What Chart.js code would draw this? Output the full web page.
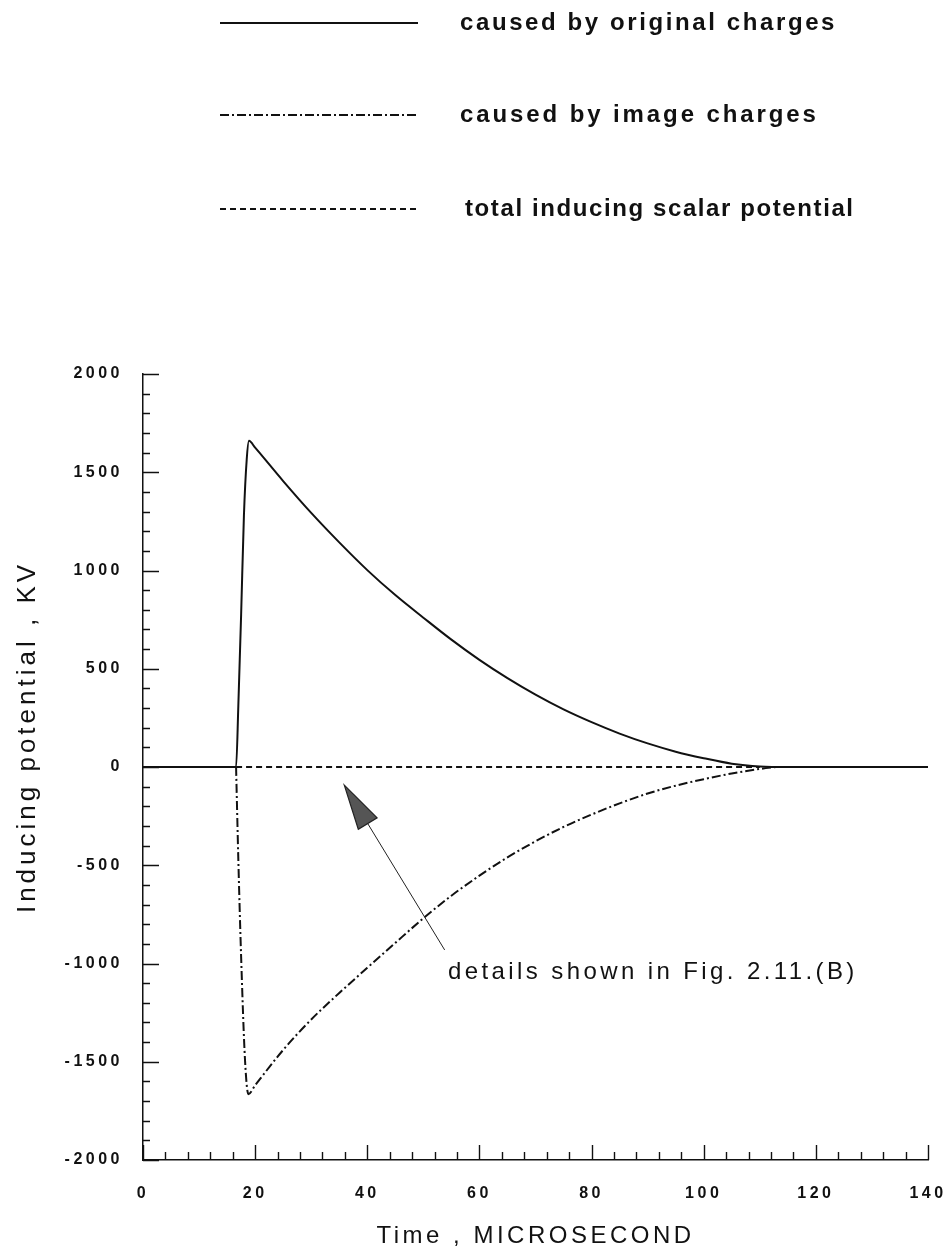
<!DOCTYPE html>
<html>
<head>
<meta charset="utf-8">
<script src="https://cdn.jsdelivr.net/npm/chart.js@4.4.0/dist/chart.umd.min.js"></script>
<style>
  html, body { margin: 0; padding: 0; background: #fff; }
  #wrap { width: 948px; height: 1253px; position: relative; }
</style>
</head>
<body>
<div id="wrap"><canvas id="potentialChart"></canvas></div>
<script>
// time in microseconds, inducing potential in kV
const origTime = [0, 16.6, 17.0, 17.5, 18.0, 18.5, 18.9, 20, 25, 30, 35, 40, 45, 50, 55, 60, 65, 70, 75, 80, 85, 90, 95, 100, 105, 110, 115, 140];
const origKV   = [0, 0, 310, 775, 1280, 1566, 1660, 1625, 1455, 1293, 1143, 1002, 875, 760, 648, 545, 452, 368, 293, 228, 170, 120, 78, 45, 17, 3, 0, 0];

const imageTime = [16.6, 17.0, 17.5, 18.2, 18.8, 20, 25, 30, 35, 40, 45, 50, 55, 60, 65, 70, 75, 80, 85, 90, 95, 100, 105, 110, 113];
const imageKV   = [0, -470, -966, -1495, -1665, -1620, -1440, -1285, -1150, -1022, -895, -770, -655, -553, -460, -378, -305, -242, -185, -135, -95, -62, -33, -10, 0];

const totalTime = [16.6, 110];
const totalKV   = [0, 0];

const seriesNames = [
  'caused by original charges',
  'caused by image charges',
  'total inducing scalar potential'
];

const xTickLabels = [0, 20, 40, 60, 80, 100, 120, 140];
const yTickLabels = [-2000, -1500, -1000, -500, 0, 500, 1000, 1500, 2000];

const toPoints = (xs, ys) => xs.map((x, i) => ({ x: x, y: ys[i] }));

const FONT = '"Liberation Sans", Arial, sans-serif';

// inward tick marks, y title, the stacked legend and the arrow note
const framePlugin = {
  id: 'frame',
  beforeDraw(chart) {
    chart.ctx.letterSpacing = '3.5px';
  },
  afterDraw(chart) {
    const { ctx, scales: { x, y } } = chart;
    ctx.save();
    ctx.letterSpacing = '0px';
    ctx.strokeStyle = '#111';
    ctx.lineWidth = 1.4;
    ctx.beginPath();
    for (let t = x.min; t <= x.max; t += 4) {
      const px = Math.round(x.getPixelForValue(t)) + 0.5;
      const len = t % 20 === 0 ? 15 : 8;
      ctx.moveTo(px, y.bottom);
      ctx.lineTo(px, y.bottom - len);
    }
    for (let v = y.min; v <= y.max; v += 100) {
      const py = Math.round(y.getPixelForValue(v)) + 0.5;
      const len = v % 500 === 0 ? 16 : 7;
      ctx.moveTo(x.left, py);
      ctx.lineTo(x.left + len, py);
    }
    ctx.stroke();

    // vertical axis title
    ctx.save();
    ctx.translate(28, 737);
    ctx.rotate(-Math.PI / 2);
    ctx.fillStyle = '#111';
    ctx.font = '26px ' + FONT;
    ctx.letterSpacing = '4px';
    ctx.textAlign = 'center';
    ctx.textBaseline = 'middle';
    ctx.fillText('Inducing potential , KV', 0, 0);
    ctx.restore();

    // legend block above the plot
    const rows = [23, 115, 209];
    const textX = [460, 460, 465];
    const spacing = ['2.6px', '2.9px', '1.6px'];
    chart.data.datasets.forEach((ds, i) => {
      ctx.save();
      ctx.strokeStyle = ds.borderColor;
      ctx.lineWidth = ds.borderWidth;
      ctx.setLineDash(ds.borderDash || []);
      ctx.beginPath();
      ctx.moveTo(220, rows[i]);
      ctx.lineTo(418, rows[i]);
      ctx.stroke();
      ctx.restore();
      ctx.fillStyle = '#111';
      ctx.font = 'bold 24px ' + FONT;
      ctx.letterSpacing = spacing[i];
      ctx.textBaseline = 'middle';
      ctx.textAlign = 'left';
      ctx.fillText(seriesNames[i], textX[i], rows[i]);
    });

    // arrow pointing at the zero region
    const tip = { x: x.getPixelForValue(35.9), y: y.getPixelForValue(-92) };
    const tail = { x: x.getPixelForValue(53.8), y: y.getPixelForValue(-931) };
    const dx = tail.x - tip.x, dy = tail.y - tip.y;
    const d = Math.hypot(dx, dy), ux = dx / d, uy = dy / d;
    const headLen = 45, half = 11;
    const bx = tip.x + ux * headLen, by = tip.y + uy * headLen;
    ctx.setLineDash([]);
    ctx.lineWidth = 1;
    ctx.strokeStyle = '#222';
    ctx.beginPath();
    ctx.moveTo(bx, by);
    ctx.lineTo(tail.x, tail.y);
    ctx.stroke();
    ctx.beginPath();
    ctx.moveTo(tip.x, tip.y);
    ctx.lineTo(bx - uy * half, by + ux * half);
    ctx.lineTo(bx + uy * half, by - ux * half);
    ctx.closePath();
    ctx.fillStyle = '#555';
    ctx.fill();
    ctx.lineWidth = 1.2;
    ctx.stroke();

    ctx.fillStyle = '#111';
    ctx.font = '24px ' + FONT;
    ctx.letterSpacing = '3.4px';
    ctx.textBaseline = 'middle';
    ctx.textAlign = 'left';
    ctx.fillText('details shown in Fig. 2.11.(B)', x.getPixelForValue(54.4), y.getPixelForValue(-1043));
    ctx.restore();
  }
};

const ctx = document.getElementById('potentialChart').getContext('2d');
new Chart(ctx, {
  type: 'line',
  data: {
    datasets: [{
      label: seriesNames[0],
      data: toPoints(origTime, origKV),
      borderColor: '#111',
      borderWidth: 2,
      borderDash: [],
      pointRadius: 0,
      cubicInterpolationMode: 'monotone'
    }, {
      label: seriesNames[1],
      data: toPoints(imageTime, imageKV),
      borderColor: '#111',
      borderWidth: 2,
      borderDash: [9, 3, 2, 3],
      pointRadius: 0,
      cubicInterpolationMode: 'monotone'
    }, {
      label: seriesNames[2],
      data: toPoints(totalTime, totalKV),
      borderColor: '#111',
      borderWidth: 2,
      borderDash: [6, 4],
      pointRadius: 0
    }]
  },
  options: {
    responsive: true,
    maintainAspectRatio: false,
    animation: false,
    layout: { padding: { top: 374, right: 20, bottom: 0, left: 0 } },
    plugins: {
      legend: { display: false },
      tooltip: { enabled: false }
    },
    scales: {
      x: {
        type: 'linear',
        min: xTickLabels[0],
        max: xTickLabels[xTickLabels.length - 1],
        afterFit: s => { s.height = 93; s.paddingLeft = 0; s.paddingRight = 0; },
        grid: { display: false, drawTicks: false },
        border: { display: true, color: '#111', width: 1.5 },
        ticks: {
          stepSize: 20,
          autoSkip: false,
          maxRotation: 0,
          padding: 24,
          color: '#111',
          font: { family: FONT, size: 16, weight: 'bold' },
          callback: v => String(v)
        },
        title: {
          display: true,
          text: 'Time , MICROSECOND',
          color: '#111',
          padding: { top: 0, bottom: 2 },
          font: { family: FONT, size: 24 }
        }
      },
      y: {
        type: 'linear',
        min: yTickLabels[0],
        max: yTickLabels[yTickLabels.length - 1],
        afterFit: s => { s.width = 143; s.paddingTop = 0; s.paddingBottom = 0; },
        grid: { display: false, drawTicks: false },
        border: { display: true, color: '#111', width: 1.5 },
        ticks: {
          stepSize: 500,
          autoSkip: false,
          padding: 20,
          color: '#111',
          font: { family: FONT, size: 16, weight: 'bold' },
          callback: v => String(v)
        },
        title: { display: false }
      }
    }
  },
  plugins: [framePlugin]
});
</script>
</body>
</html>
